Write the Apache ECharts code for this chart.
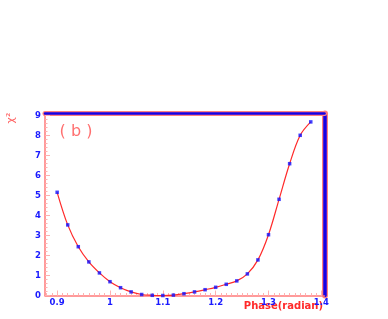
<!DOCTYPE html>
<html><head><meta charset="utf-8">
<script src="https://cdn.jsdelivr.net/npm/echarts@6/dist/echarts.min.js"></script>
<style>html,body{margin:0;padding:0;background:#fff}#c{width:388px;height:319px}</style>
</head><body><div id="c"></div>
<script>
const phase = [0.90,0.92,0.94,0.96,0.98,1.00,1.02,1.04,1.06,1.08,1.10,1.12,1.14,1.16,1.18,1.20,1.22,1.24,1.26,1.28,1.30,1.32,1.34,1.36,1.38];
const chi2  = [5.16,3.53,2.44,1.68,1.13,0.69,0.39,0.18,0.05,0.01,0.00,0.02,0.09,0.18,0.29,0.41,0.56,0.73,1.08,1.78,3.04,4.81,6.59,8.01,8.68];
const xTickLabels = [0.9,1.0,1.1,1.2,1.3,1.4];
const yTickLabels = [0,1,2,3,4,5,6,7,8,9];
const xMinorTicks = [];
for (let i = 88; i <= 140; i++) xMinorTicks.push(i / 100);
const yMinorTicks = [];
for (let i = 0; i <= 45; i++) yMinorTicks.push(i / 5);

const XMIN = 0.877, XMAX = 1.406, YMIN = 0, YMAX = 9.1;
const axisPink = '#ff7a7a', tickPink = '#ffb0b0', blue = '#1a1aff', frameBlue = '#1400e6', frameRed = '#ff8080';
const labelFont = {color: blue, fontFamily: 'DejaVu Sans', fontWeight: 'bold', fontSize: 8.5};

const chart = echarts.init(document.getElementById('c'), null, {renderer: 'canvas'});
const hidden = {axisLabel: {show: false}, splitLine: {show: false}, axisTick: {show: false}};
function line(color, width, show) {
  return {axisLine: {show: show !== false, onZero: false, lineStyle: {color: color, width: width}}};
}
chart.setOption({
  animation: false,
  backgroundColor: '#fff',
  grid: {left: 45, right: 63.5, top: 113.5, bottom: 23.5, containLabel: false},
  xAxis: [
    Object.assign({type: 'value', min: XMIN, max: XMAX, position: 'bottom',
     axisTick: {show: true, inside: true, length: 5, customValues: xTickLabels, lineStyle: {color: tickPink}},
     axisLabel: Object.assign({customValues: xTickLabels, margin: 3,
       formatter: v => String(Math.round(v * 10) / 10)}, labelFont),
     splitLine: {show: false}}, line(axisPink, 1.5)),
    Object.assign({type: 'value', min: XMIN, max: XMAX, position: 'bottom'}, hidden, line(axisPink, 1, false),
     {axisTick: {show: true, inside: true, length: 2.5, customValues: xMinorTicks, lineStyle: {color: tickPink}}}),
    Object.assign({type: 'value', min: XMIN, max: XMAX, position: 'top'}, hidden, line(frameRed, 5)),
    Object.assign({type: 'value', min: XMIN, max: XMAX, position: 'top'}, hidden, line(frameBlue, 2.5))
  ],
  yAxis: [
    Object.assign({type: 'value', min: YMIN, max: YMAX, position: 'left',
     axisTick: {show: true, inside: true, length: 5, customValues: yTickLabels, lineStyle: {color: tickPink}},
     axisLabel: Object.assign({customValues: yTickLabels, margin: 4}, labelFont),
     splitLine: {show: false}}, line(axisPink, 1.5)),
    Object.assign({type: 'value', min: YMIN, max: YMAX, position: 'left'}, hidden, line(axisPink, 1, false),
     {axisTick: {show: true, inside: true, length: 2.5, customValues: yMinorTicks, lineStyle: {color: tickPink}}}),
    Object.assign({type: 'value', min: YMIN, max: YMAX, position: 'right'}, hidden, line(frameRed, 6)),
    Object.assign({type: 'value', min: YMIN, max: YMAX, position: 'right'}, hidden, line(frameBlue, 3.5))
  ],
  series: [
    {type: 'line', xAxisIndex: 0, yAxisIndex: 0, smooth: 0.35, symbol: 'none',
     lineStyle: {color: '#ff2a2a', width: 1.2},
     data: phase.map((p, i) => [p, chi2[i]]), z: 3},
    {type: 'scatter', xAxisIndex: 0, yAxisIndex: 0, symbol: 'rect', symbolSize: 3.5,
     itemStyle: {color: '#1010ff'},
     data: phase.map((p, i) => [p, chi2[i]]), z: 4}
  ],
  graphic: [
    {type: 'text', x: 11, y: 118, rotation: Math.PI / 2,
     style: {text: 'χ²', fill: '#ff6060', font: '11px "DejaVu Sans"', textAlign: 'center', textVerticalAlign: 'middle'}},
    {type: 'text', x: 76, y: 131.5,
     style: {text: '( b )', fill: '#ff7070', font: '16px "DejaVu Sans"', textAlign: 'center', textVerticalAlign: 'middle'}},
    {type: 'text', x: 323, y: 306.5,
     style: {text: 'Phase(radian)', fill: '#ff2a2a', font: 'bold 10px "DejaVu Sans"', textAlign: 'right', textVerticalAlign: 'middle'}}
  ]
});
</script>
</body></html>
